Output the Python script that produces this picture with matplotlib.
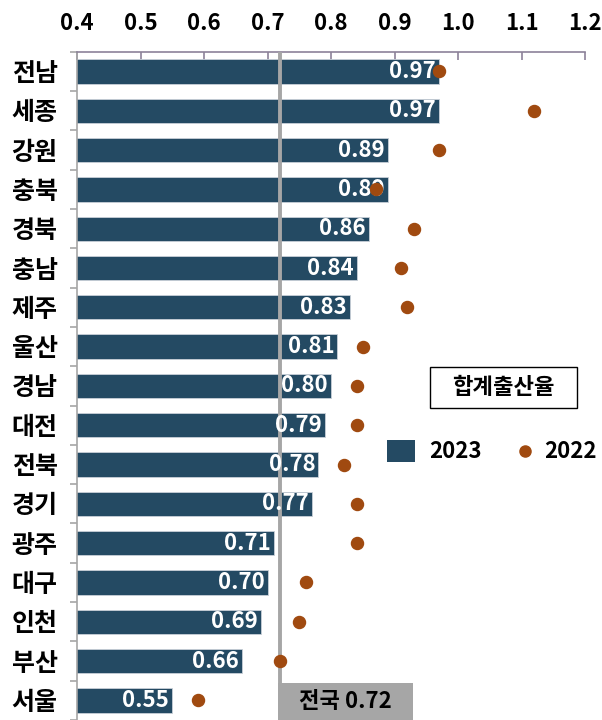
import matplotlib
matplotlib.use("Agg")
import matplotlib.pyplot as plt
from matplotlib.patches import Rectangle
import numpy as np

plt.rcParams['font.family'] = ['Noto Sans CJK KR', 'DejaVu Sans']

#Regions, top to bottom
regions = ["전남", "세종", "강원", "충북", "경북", "충남", "제주", "울산", "경남",
           "대전", "전북", "경기", "광주", "대구", "인천", "부산", "서울"]
tfr_2023 = [0.97, 0.97, 0.89, 0.89, 0.86, 0.84, 0.83, 0.81, 0.80,
            0.79, 0.78, 0.77, 0.71, 0.70, 0.69, 0.66, 0.55]
tfr_2022 = [0.97, 1.12, 0.97, 0.87, 0.93, 0.91, 0.92, 0.85, 0.84,
            0.84, 0.82, 0.84, 0.84, 0.76, 0.75, 0.72, 0.59]
national = 0.72
xticks = [0.4, 0.5, 0.6, 0.7, 0.8, 0.9, 1.0, 1.1, 1.2]

BAR = "#244a63"
DOT = "#a04a10"
GRID = "#8c8299"
GREY = "#a6a6a6"
W, H = 602, 720

def fx(px):
    return px / W

def fy(py):
    return 1 - py / H

fig = plt.figure(figsize=(6.02, 7.2), dpi=100)
ax = fig.add_axes([0.128, 0.0, 0.844, 0.928])

y = np.arange(len(regions))
ax.barh(y, tfr_2023, left=0, height=0.62, color=BAR, edgecolor="#c8d0d8",
        linewidth=0.6, zorder=2)
ax.scatter(tfr_2022, y, s=75, color=DOT, zorder=5)

#National average line
ax.axvline(national, color=GREY, lw=2.8, zorder=3)

for yi, v in zip(y, tfr_2023):
    ax.text(v - 0.005, yi, f"{v:.2f}", ha="right", va="center", color="white",
            fontsize=16, fontweight="bold", zorder=4)

ax.set_xlim(0.4, 1.2)
ax.set_ylim(len(regions) - 0.5, -0.5)
ax.set_xticks(xticks)
ax.set_xticklabels([f"{t:.1f}" for t in xticks])
ax.xaxis.tick_top()
ax.tick_params(axis="x", direction="in", length=6, color=GRID, width=1.2,
               labelsize=16, pad=12)
for lab in ax.get_xticklabels():
    lab.set_fontweight("bold")
ax.set_yticks(y)
ax.set_yticklabels(regions, fontsize=18, fontweight="bold")
ax.set_yticks(np.arange(len(regions) + 1) - 0.5, minor=True)
ax.tick_params(axis="y", which="major", length=0, pad=14)
ax.tick_params(axis="y", which="minor", length=5, color=GREY, width=1.2)
for s in ["right", "bottom"]:
    ax.spines[s].set_visible(False)
ax.spines["top"].set_color(GRID)
ax.spines["top"].set_linewidth(1.2)
ax.spines["left"].set_color(GREY)
ax.spines["left"].set_linewidth(1.2)

#National average label box at the bottom
fig.patches.append(Rectangle((fx(278), 0), 135 / W, 37 / H,
                             transform=fig.transFigure, fc=GREY, ec="none",
                             zorder=6))
fig.text(fx(345), fy(702), "전국 0.72", ha="center", va="center",
         fontsize=16, fontweight="bold", color="black", zorder=7)

#Title box
fig.patches.append(Rectangle((fx(430), fy(408)), 147 / W, 41 / H,
                             transform=fig.transFigure, fc="white", ec="black",
                             lw=1.0, zorder=6))
fig.text(fx(503.5), fy(388), "합계출산율", ha="center", va="center",
         fontsize=16, fontweight="bold", zorder=7)

#Legend drawn by hand
fig.patches.append(Rectangle((fx(387), fy(462)), 28 / W, 22 / H,
                             transform=fig.transFigure, fc=BAR, ec="none",
                             zorder=6))
fig.text(fx(429), fy(451), "2023", ha="left", va="center", fontsize=16,
         fontweight="bold", zorder=7)
fig.add_artist(plt.Line2D([fx(525)], [fy(451)], marker="o", color=DOT,
                          markersize=8, ls="none", transform=fig.transFigure))
fig.text(fx(544), fy(451), "2022", ha="left", va="center", fontsize=16,
         fontweight="bold", zorder=7)

fig.savefig("out.png", dpi=100)
